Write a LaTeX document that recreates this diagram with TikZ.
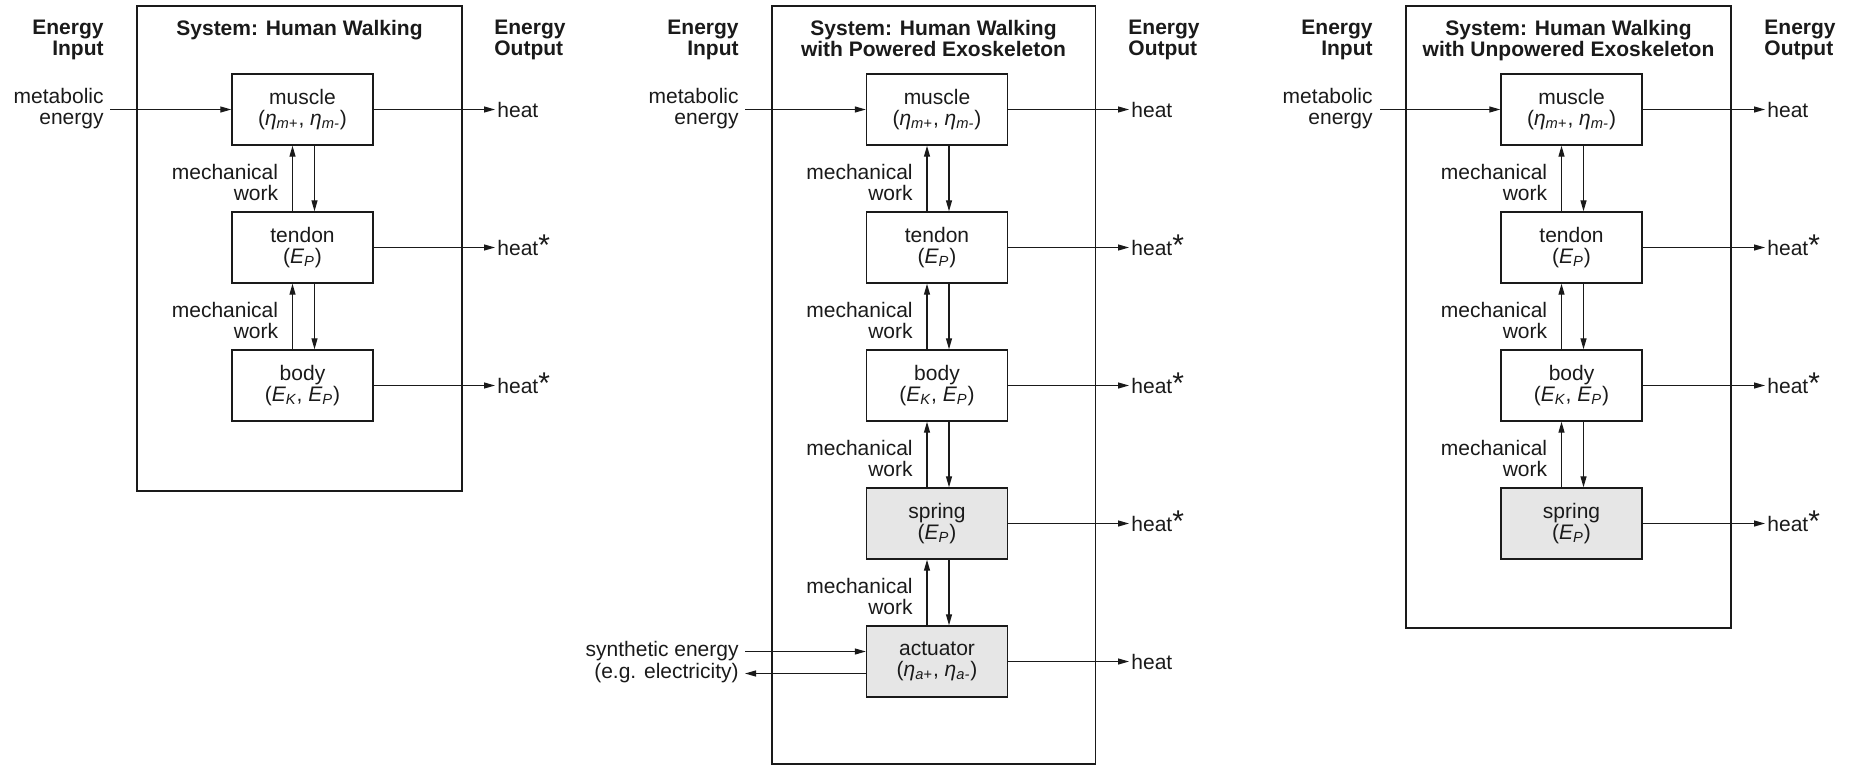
\documentclass[tikz,border=0pt]{standalone}
\usepackage{fontspec}
\setmainfont{Liberation Sans}
\usetikzlibrary{arrows.meta}
\definecolor{boxgray}{HTML}{E6E6E6}
\definecolor{ink}{HTML}{1A1A1A}
\newcommand{\myeta}{{\itshape η}}
\newcommand{\ssub}[1]{\textsubscript{\itshape #1}}
\newcommand{\hstar}{heat{\fontsize{15}{15}\selectfont\smash{*}}}
\tikzset{
  every node/.style={font=\fontsize{10.5}{10.5}\selectfont, text=ink},
  sysbox/.style={draw=ink, line width=0.7pt},
  blk/.style={draw=ink, line width=0.7pt, minimum width=70.5pt, minimum height=35.5pt, align=center, inner sep=0pt},
  gblk/.style={blk, fill=boxgray},
  hdr/.style={font=\bfseries\fontsize{10.5}{10.5}\selectfont, inner sep=0pt},
  lbl/.style={inner sep=0pt},
  flow/.style={draw=ink, line width=0.6pt, -{Triangle[length=5.5pt,width=3pt]}},
}
\begin{document}
\begin{tikzpicture}[x=0.5pt,y=-0.5pt]
\useasboundingbox (0,0) rectangle (1850,766);

% ================= Panel 1 =================
\draw[sysbox] (137,6) rectangle (462,491);
\node[hdr, align=right, anchor=north east] (ein1) at (104,20) {Energy\\Input};
\node[hdr, anchor=north] (sys1) at (299.5,20) {System: Human Walking};
\node[hdr, align=left, anchor=north west] (eout1) at (494,20) {Energy\\Output};

\node[blk] (m1) at (302.5,109.5) {muscle\\(\myeta\ssub{m+}, \myeta\ssub{m-})};
\node[blk] (t1) at (302.5,247.5) {tendon\\({\itshape E}\ssub{P})};
\node[blk] (b1) at (302.5,385.5) {body\\({\itshape E}\ssub{K}, {\itshape E}\ssub{P})};

\node[lbl, align=right, anchor=north east] (me1) at (104,88) {metabolic\\energy};
\coordinate (mi1) at (110,109.5);
\draw[flow] (mi1) -- (m1.west);

\node[lbl, align=right, anchor=north east] (w1a) at (278.5,163.5) {mechanical\\work};
\node[lbl, align=right, anchor=north east] (w1b) at (278.5,301.5) {mechanical\\work};
\draw[flow] ([xshift=-5pt]t1.north) -- ([xshift=-5pt]m1.south);
\draw[flow] ([xshift=6pt]m1.south) -- ([xshift=6pt]t1.north);
\draw[flow] ([xshift=-5pt]b1.north) -- ([xshift=-5pt]t1.south);
\draw[flow] ([xshift=6pt]t1.south) -- ([xshift=6pt]b1.north);

\node[lbl, anchor=west] (hm1) at (497,109.5) {heat};
\node[lbl, anchor=west] (ht1) at (497,247.5) {\hstar};
\node[lbl, anchor=west] (hb1) at (497,385.5) {\hstar};
\draw[flow] (m1.east) -- ([xshift=-1pt]hm1.west);
\draw[flow] (t1.east) -- ([xshift=-1pt]ht1.west);
\draw[flow] (b1.east) -- ([xshift=-1pt]hb1.west);

% ================= Panel 2 =================
\draw[sysbox] (772,6) rectangle (1095.5,764);
\node[hdr, align=right, anchor=north east] (ein2) at (739,20) {Energy\\Input};
\node[hdr, align=center, anchor=north] (sys2) at (933.5,20) {System: Human Walking\\with Powered Exoskeleton};
\node[hdr, align=left, anchor=north west] (eout2) at (1128,20) {Energy\\Output};

\node[blk] (m2) at (937,109.5) {muscle\\(\myeta\ssub{m+}, \myeta\ssub{m-})};
\node[blk] (t2) at (937,247.5) {tendon\\({\itshape E}\ssub{P})};
\node[blk] (b2) at (937,385.5) {body\\({\itshape E}\ssub{K}, {\itshape E}\ssub{P})};
\node[gblk] (s2) at (937,523.5) {spring\\({\itshape E}\ssub{P})};
\node[gblk] (a2) at (937,661.5) {actuator\\(\myeta\ssub{a+}, \myeta\ssub{a-})};

\node[lbl, align=right, anchor=north east] (me2) at (739,88) {metabolic\\energy};
\coordinate (mi2) at (745,109.5);
\draw[flow] (mi2) -- (m2.west);

\node[lbl, align=right, anchor=north east] (w2a) at (913,163.5) {mechanical\\work};
\node[lbl, align=right, anchor=north east] (w2b) at (913,301.5) {mechanical\\work};
\node[lbl, align=right, anchor=north east] (w2c) at (913,439.5) {mechanical\\work};
\node[lbl, align=right, anchor=north east] (w2d) at (913,577.5) {mechanical\\work};
\draw[flow] ([xshift=-5pt]t2.north) -- ([xshift=-5pt]m2.south);
\draw[flow] ([xshift=6pt]m2.south) -- ([xshift=6pt]t2.north);
\draw[flow] ([xshift=-5pt]b2.north) -- ([xshift=-5pt]t2.south);
\draw[flow] ([xshift=6pt]t2.south) -- ([xshift=6pt]b2.north);
\draw[flow] ([xshift=-5pt]s2.north) -- ([xshift=-5pt]b2.south);
\draw[flow] ([xshift=6pt]b2.south) -- ([xshift=6pt]s2.north);
\draw[flow] ([xshift=-5pt]a2.north) -- ([xshift=-5pt]s2.south);
\draw[flow] ([xshift=6pt]s2.south) -- ([xshift=6pt]a2.north);

\node[lbl, anchor=west] (hm2) at (1131,109.5) {heat};
\node[lbl, anchor=west] (ht2) at (1131,247.5) {\hstar};
\node[lbl, anchor=west] (hb2) at (1131,385.5) {\hstar};
\node[lbl, anchor=west] (hs2) at (1131,523.5) {\hstar};
\node[lbl, anchor=west] (ha2) at (1131,661.5) {heat};
\draw[flow] (m2.east) -- ([xshift=-1pt]hm2.west);
\draw[flow] (t2.east) -- ([xshift=-1pt]ht2.west);
\draw[flow] (b2.east) -- ([xshift=-1pt]hb2.west);
\draw[flow] (s2.east) -- ([xshift=-1pt]hs2.west);
\draw[flow] (a2.east) -- ([xshift=-1pt]ha2.west);

\node[lbl, anchor=east] (syn) at (739,651.5) {synthetic energy};
\node[lbl, anchor=east] (elec) at (739,673.5) {(e.g. electricity)};
\coordinate (synin) at (745,651.5);
\coordinate (synout) at (745,673.5);
\draw[flow] (synin) -- ([yshift=5pt]a2.west);
\draw[flow] ([yshift=-6pt]a2.west) -- (synout);

% ================= Panel 3 =================
\draw[sysbox] (1406,6) rectangle (1731,628);
\node[hdr, align=right, anchor=north east] (ein3) at (1373,20) {Energy\\Input};
\node[hdr, align=center, anchor=north] (sys3) at (1568.5,20) {System: Human Walking\\with Unpowered Exoskeleton};
\node[hdr, align=left, anchor=north west] (eout3) at (1764,20) {Energy\\Output};

\node[blk] (m3) at (1571.5,109.5) {muscle\\(\myeta\ssub{m+}, \myeta\ssub{m-})};
\node[blk] (t3) at (1571.5,247.5) {tendon\\({\itshape E}\ssub{P})};
\node[blk] (b3) at (1571.5,385.5) {body\\({\itshape E}\ssub{K}, {\itshape E}\ssub{P})};
\node[gblk] (s3) at (1571.5,523.5) {spring\\({\itshape E}\ssub{P})};

\node[lbl, align=right, anchor=north east] (me3) at (1373,88) {metabolic\\energy};
\coordinate (mi3) at (1380,109.5);
\draw[flow] (mi3) -- (m3.west);

\node[lbl, align=right, anchor=north east] (w3a) at (1547.5,163.5) {mechanical\\work};
\node[lbl, align=right, anchor=north east] (w3b) at (1547.5,301.5) {mechanical\\work};
\node[lbl, align=right, anchor=north east] (w3c) at (1547.5,439.5) {mechanical\\work};
\draw[flow] ([xshift=-5pt]t3.north) -- ([xshift=-5pt]m3.south);
\draw[flow] ([xshift=6pt]m3.south) -- ([xshift=6pt]t3.north);
\draw[flow] ([xshift=-5pt]b3.north) -- ([xshift=-5pt]t3.south);
\draw[flow] ([xshift=6pt]t3.south) -- ([xshift=6pt]b3.north);
\draw[flow] ([xshift=-5pt]s3.north) -- ([xshift=-5pt]b3.south);
\draw[flow] ([xshift=6pt]b3.south) -- ([xshift=6pt]s3.north);

\node[lbl, anchor=west] (hm3) at (1767,109.5) {heat};
\node[lbl, anchor=west] (ht3) at (1767,247.5) {\hstar};
\node[lbl, anchor=west] (hb3) at (1767,385.5) {\hstar};
\node[lbl, anchor=west] (hs3) at (1767,523.5) {\hstar};
\draw[flow] (m3.east) -- ([xshift=-1pt]hm3.west);
\draw[flow] (t3.east) -- ([xshift=-1pt]ht3.west);
\draw[flow] (b3.east) -- ([xshift=-1pt]hb3.west);
\draw[flow] (s3.east) -- ([xshift=-1pt]hs3.west);
\end{tikzpicture}
\end{document}
